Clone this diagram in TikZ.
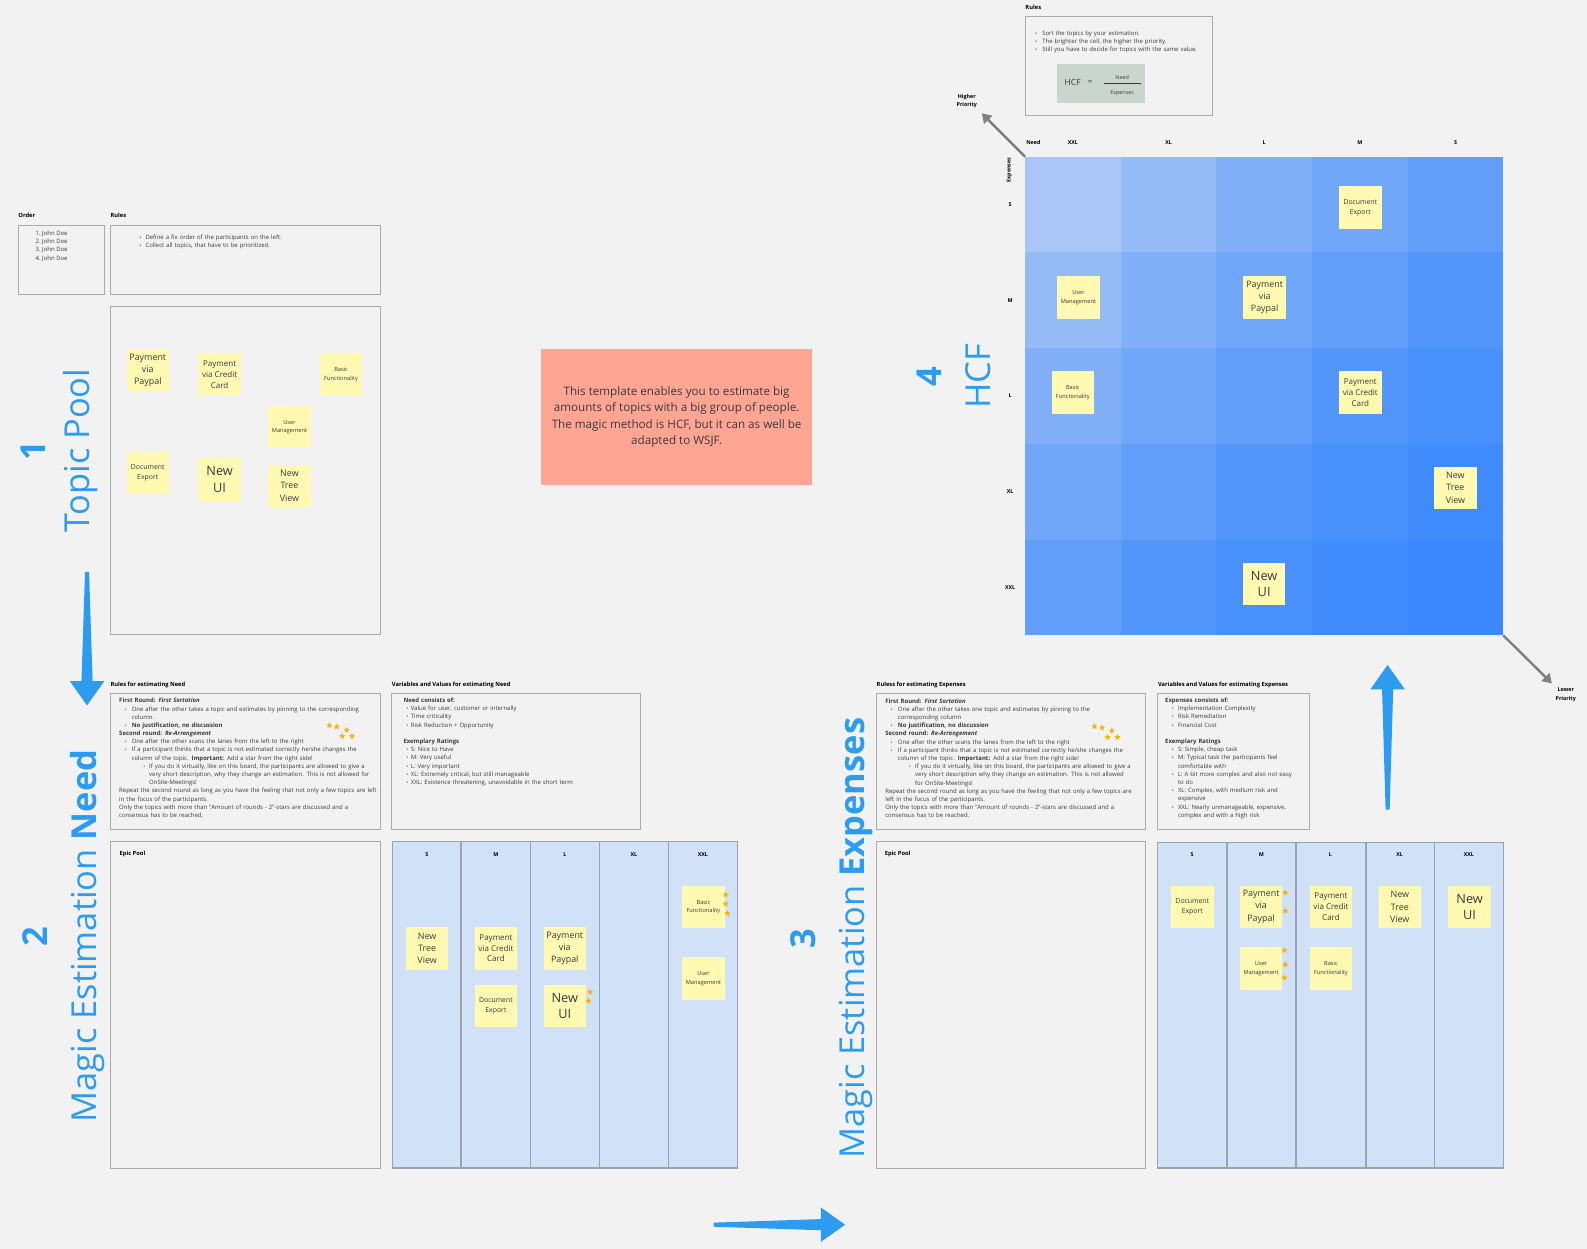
\documentclass[tikz,border=0pt]{standalone}
\usepackage{fontspec}
\setmainfont{Open Sans}
\usepackage{enumitem}
\usetikzlibrary{arrows.meta}
\usetikzlibrary{calc}
\usetikzlibrary{shapes.geometric}

\definecolor{boardBg}{HTML}{F2F2F2}
\definecolor{frameGray}{HTML}{ABABAB}
\definecolor{inkGray}{HTML}{3A3A3A}
\definecolor{laneFill}{HTML}{D0E1F8}
\definecolor{laneLine}{HTML}{98A2B2}
\definecolor{stickyYellow}{HTML}{FFF9B1}
\definecolor{starGold}{HTML}{F4B400}
\definecolor{flowBlue}{HTML}{2D9CF0}
\definecolor{noteRed}{HTML}{FFA593}
\definecolor{hintGray}{HTML}{808080}
\definecolor{formulaGreen}{HTML}{C9D5CD}
\definecolor{hcfLight}{HTML}{A9C6F6}
\definecolor{hcfDark}{HTML}{3A88FC}

\setlist[itemize]{nosep,label={\fontsize{5}{5}\selectfont\textbullet}}

% tapered board arrow from #1 to #2
\newcommand{\flowArrow}[2]{%
  \fill[flowBlue]
    ($(#1)!2pt!-90:(#2)$)
    -- ($(#2)!24pt!(#1)!5.5pt!90:(#1)$)
    -- ($(#2)!24pt!(#1)!17pt!90:(#1)$)
    -- (#2)
    -- ($(#2)!24pt!(#1)!17pt!-90:(#1)$)
    -- ($(#2)!24pt!(#1)!5.5pt!-90:(#1)$)
    -- ($(#1)!2pt!90:(#2)$)
    -- cycle;}

\begin{document}
\begin{tikzpicture}[
    x=1pt, y=-1pt,
    every node/.style={text=inkGray},
    panel/.style={draw=frameGray, line width=0.9pt},
    panelTitle/.style={
        anchor=base west, inner sep=0pt, text=black,
        font=\bfseries\fontsize{5.7}{7}\selectfont
    },
    bodyText/.style={
        anchor=north west, inner sep=0pt, align=left,
        font=\fontsize{5.9}{8.1}\selectfont
    },
    laneBox/.style={fill=laneFill, draw=laneLine, line width=1pt},
    laneHead/.style={inner sep=0pt, text=black, font=\bfseries\fontsize{5.3}{6}\selectfont},
    stickyNote/.style={
        fill=stickyYellow, minimum width=42pt, minimum height=42pt,
        inner sep=0pt, align=center
    },
    noteHuge/.style={font=\fontsize{12.6}{16.5}\selectfont},
    noteLarge/.style={font=\fontsize{8.8}{11.9}\selectfont},
    noteMedium/.style={font=\fontsize{7.9}{10.6}\selectfont},
    noteSmall/.style={font=\fontsize{6.8}{9.9}\selectfont},
    noteTiny/.style={font=\fontsize{5.6}{8.4}\selectfont},
    voteStar/.style={
        star, star points=5, star point ratio=2.3, minimum size=6.5pt,
        inner sep=0pt, fill=starGold
    },
    sectionNum/.style={
        rotate=90, anchor=base, inner sep=0pt, text=flowBlue,
        font=\bfseries\fontsize{34}{40}\selectfont
    },
    sectionTitle/.style={
        rotate=90, anchor=base, inner sep=0pt, text=flowBlue,
        font=\fontsize{34}{40}\selectfont
    },
    priorityArrow/.style={draw=hintGray, line width=2.4pt, -{Triangle[length=9pt, width=11pt]}},
    priorityText/.style={inner sep=0pt, align=center, text=black, font=\bfseries\fontsize{5.3}{8.4}\selectfont}
]
\fill[boardBg] (0,0) rectangle (1568,1234);
\useasboundingbox (0,0) rectangle (1568,1234);

% 1 Topic Pool
\node[panelTitle] (orderTitle) at (18,214.5) {Order};
\draw[panel] (18,223) rectangle (103,291);
\node[bodyText] (orderList) at (35,228) {1.~John Doe\\2.~John Doe\\3.~John Doe\\4.~John Doe};
\node[panelTitle] (poolRulesTitle) at (109,214.5) {Rules};
\draw[panel] (109,223) rectangle (376,291);
\node[bodyText, text width=230pt] (poolRules) at (137,228) {%
\begin{itemize}[leftmargin=6.6pt,labelsep=4pt]
\item Define a fix order of the participants on the left.
\item Collect all topics, that have to be prioritized.
\end{itemize}};
\draw[panel] (109,303) rectangle (376,627);
\node[stickyNote, noteLarge] (tpPaypal) at (146,366) {Payment\\via\\Paypal};
\node[stickyNote, noteMedium] (tpCard) at (217,370) {Payment\\via Credit\\Card};
\node[stickyNote, noteTiny] (tpBasic) at (337,370) {Basic\\Functionality};
\node[stickyNote, noteTiny] (tpUser) at (286,422) {User\\Management};
\node[stickyNote, noteSmall] (tpExport) at (146,467) {Document\\Export};
\node[stickyNote, noteHuge] (tpUi) at (217,474) {New\\UI};
\node[stickyNote, noteLarge] (tpTree) at (286,480) {New\\Tree\\View};
\node[sectionNum] (numPool) at (45,445) {1};
\node[sectionTitle] (titlePool) at (88,445) {Topic Pool};

% 2 Magic Estimation Need
\node[panelTitle] (needRulesTitle) at (109,678.6) {Rules for estimating Need};
\draw[panel] (109,685) rectangle (376,820);
\node[bodyText, text width=258pt] (needRules) at (117.6,689.7) {%
\textbf{First Round: \textit{First Sortation}}
\begin{itemize}[leftmargin=12.4pt,labelsep=5pt]
\item One after the other takes a topic and estimates by pinning to the corresponding\newline column.
\item \textbf{No justification, no discussion}
\end{itemize}
\textbf{Second round: \textit{Re-Arrangement}}
\begin{itemize}[leftmargin=12.4pt,labelsep=5pt]
\item One after the other scans the lanes from the left to the right
\item If a participant thinks that a topic is not estimated correctly he/she changes the\newline column of the topic. \textbf{Important:} Add a star from the right side!
\begin{itemize}[leftmargin=17.2pt,labelsep=3.9pt]
\item If you do it virtually, like on this board, the participants are allowed to give a\newline very short description, why they change an estimation. This is not allowed for\newline OnSite-Meetings!
\end{itemize}
\end{itemize}
Repeat the second round as long as you have the feeling that not only a few topics are left\newline in the focus of the participants.\par
Only the topics with more than "Amount of rounds - 2"-stars are discussed and a\newline consensus has to be reached.};
\foreach \sx/\sy [count=\k] in {325.4/716.7, 332.7/718, 342.6/721.3, 338.2/727.3, 347.8/727.3}
  \node[voteStar] (needRuleStar\k) at (\sx,\sy) {};
\node[panelTitle] (needVarsTitle) at (387,678.6) {Variables and Values for estimating Need};
\draw[panel] (387,685) rectangle (633,820);
\node[bodyText, text width=228pt] (needVars) at (398.5,689.4) {%
\textbf{Need consists of:}
\begin{itemize}[leftmargin=7.3pt,labelsep=2.6pt]
\item Value for user, customer or internally
\item Time criticality
\item Risk Reduction + Opportunity
\end{itemize}
\vspace{8.1pt}
\textbf{Exemplary Ratings}
\begin{itemize}[leftmargin=7.3pt,labelsep=2.6pt]
\item S: Nice to Have
\item M: Very useful
\item L: Very important
\item XL: Extremely critical, but still manageable
\item XXL: Existence threatening, unavoidable in the short term
\end{itemize}};
\draw[panel] (109,831) rectangle (376,1154);
\node[panelTitle] (needPoolTitle) at (118,845) {Epic Pool};
\draw[laneBox] (387.7,831.7) rectangle (728.5,1154);
\foreach \cx in {455.5,524,592.2,660.4}
  \draw[laneLine, line width=1.4pt] (\cx,831.7) -- (\cx,1154);
\foreach \lbl [count=\k] in {S,M,L,XL,XXL}
  \node[laneHead] (needLane\k) at (387.7+68.16*\k-34.08,844) {\lbl};
\node[stickyNote, noteLarge] (ndTree) at (422,937) {New\\Tree\\View};
\node[stickyNote, noteMedium] (ndCard) at (490,937) {Payment\\via Credit\\Card};
\node[stickyNote, noteSmall] (ndExport) at (490,994) {Document\\Export};
\node[stickyNote, noteLarge] (ndPaypal) at (558,937) {Payment\\via\\Paypal};
\node[stickyNote, noteHuge] (ndUi) at (558,994) {New\\UI};
\node[stickyNote, noteTiny] (ndBasic) at (695,896) {Basic\\Functionality};
\node[stickyNote, noteTiny] (ndUser) at (695,967) {User\\Management};
\foreach \sx/\sy [count=\k] in {583/980, 581.4/989, 717/884, 717/893, 718.7/902.5}
  \node[voteStar] (needLaneStar\k) at (\sx,\sy) {};
\node[sectionNum] (numNeed) at (47,925) {2};
\node[sectionTitle] (titleNeed) at (95,925) {Magic Estimation \textbf{Need}};

% 3 Magic Estimation Expenses
\node[panelTitle] (costRulesTitle) at (866,678.6) {Ruless for estimating Expenses};
\draw[panel] (866,685) rectangle (1132,820);
\node[bodyText, text width=255pt] (costRules) at (874.5,690) {%
\textbf{First Round: \textit{First Sortation}}
\begin{itemize}[leftmargin=12.5pt,labelsep=5.3pt]
\item One after the other takes one topic and estimates by pinning to the\newline corresponding column
\item \textbf{No justification, no discussion}
\end{itemize}
\textbf{Second round: \textit{Re-Arrangement}}
\begin{itemize}[leftmargin=12.5pt,labelsep=5.3pt]
\item One after the other scans the lanes from the left to the right
\item If a participant thinks that a topic is not estimated correctly he/she changes the\newline column of the topic. \textbf{Important:} Add a star from the right side!
\begin{itemize}[leftmargin=17pt,labelsep=4.3pt]
\item If you do it virtually, like on this board, the participants are allowed to give a\newline very short description why they change an estimation. This is not allowed\newline for OnSite-Meetings!
\end{itemize}
\end{itemize}
Repeat the second round as long as you have the feeling that not only a few topics are\newline left in the focus of the participants.\par
Only the topics with more than "Amount of rounds - 2"-stars are discussed and a\newline consensus has to be reached.};
\foreach \sx/\sy [count=\k] in {1081.3/717.7, 1088.9/719, 1098.5/722, 1094.2/728.3, 1104/728.3}
  \node[voteStar] (costRuleStar\k) at (\sx,\sy) {};
\node[panelTitle] (costVarsTitle) at (1144,678.6) {Variables and Values for estimating Expenses};
\draw[panel] (1144,685) rectangle (1294,820);
\node[bodyText, text width=138pt] (costVars) at (1151,689.4) {%
\textbf{Expenses consists of:}
\begin{itemize}[leftmargin=12.7pt,labelsep=4.2pt]
\item Implementation Complexity
\item Risk Remediation
\item Financial Cost
\end{itemize}
\vspace{8.1pt}
\textbf{Exemplary Ratings}
\begin{itemize}[leftmargin=12.7pt,labelsep=4.2pt]
\item S: Simple, cheap task
\item M: Typical task the participants feel\newline comfortable with
\item L: A bit more complex and also not easy\newline to do
\item XL: Complex, with medium risk and\newline expensive
\item XXL: Nearly unmanageable, expensive,\newline complex and with a high risk
\end{itemize}};
\draw[panel] (866,831) rectangle (1132,1154);
\node[panelTitle] (costPoolTitle) at (874,845) {Epic Pool};
\draw[laneBox] (1143.6,832) rectangle (1485.5,1154);
\foreach \cx in {1212.1,1280.6,1349.5,1417.3}
  \draw[laneLine, line width=1.4pt] (\cx,832) -- (\cx,1154);
\foreach \lbl [count=\k] in {S,M,L,XL,XXL}
  \node[laneHead] (costLane\k) at (1143.6+68.38*\k-34.19,844) {\lbl};
\node[stickyNote, noteSmall] (exExport) at (1178,896) {Document\\Export};
\node[stickyNote, noteLarge] (exPaypal) at (1246,896) {Payment\\via\\Paypal};
\node[stickyNote, noteTiny] (exUser) at (1246,957) {User\\Management};
\node[stickyNote, noteMedium] (exCard) at (1315,896) {Payment\\via Credit\\Card};
\node[stickyNote, noteTiny] (exBasic) at (1315,957) {Basic\\Functionality};
\node[stickyNote, noteLarge] (exTree) at (1383,896) {New\\Tree\\View};
\node[stickyNote, noteHuge] (exUi) at (1452,896) {New\\UI};
\foreach \sx/\sy [count=\k] in {1270/882, 1270/900, 1269/939, 1270/953, 1269/966}
  \node[voteStar] (costLaneStar\k) at (\sx,\sy) {};
\node[sectionNum] (numCost) at (806,927) {3};
\node[sectionTitle] (titleCost) at (854,927) {Magic Estimation \textbf{Expenses}};

% 4 HCF
\node[panelTitle] (hcfRulesTitle) at (1013,9.2) {Rules};
\draw[panel] (1013.5,16.5) rectangle (1198.3,113.6);
\node[bodyText, text width=170pt] (hcfRules) at (1022,26.6) {%
\begin{itemize}[leftmargin=7.6pt,labelsep=5.2pt]
\item Sort the topics by your estimation.
\item The brighter the cell, the higher the priority.
\item Still you have to decide for topics with the same value.
\end{itemize}};
\fill[formulaGreen] (1044.8,63.2) rectangle (1131.4,101.5);
\node[inner sep=0pt, font=\fontsize{8.4}{10}\selectfont] (hcfName) at (1059.8,81.7) {HCF};
\node[inner sep=0pt, font=\fontsize{8}{10}\selectfont] (hcfEq) at (1077,81.7) {=};
\node[inner sep=0pt, font=\fontsize{5.3}{6}\selectfont] (hcfNeed) at (1108.7,76.8) {Need};
\node[inner sep=0pt, font=\fontsize{5.3}{6}\selectfont] (hcfCost) at (1108.7,91.9) {Expenses};
\draw[inkGray, line width=0.5pt] (1091,82.3) -- (1127.2,82.3);

\foreach \i in {0,...,4}{
  \foreach \j in {0,...,4}{
    \pgfmathsetmacro\hcfShade{100*(1-(1-(\i+\j)/8)*sqrt(1-(\i+\j)/8))}
    \fill[hcfDark!\hcfShade!hcfLight] (1012.8+94.5*\i,154.8+94.6*\j) rectangle ++(94.5,94.6);
  }
}
\coordinate (hcfCornerNW) at (1012.8,154.8);
\coordinate (hcfCornerSE) at (1485.3,627.8);
\node[laneHead] (needAxis) at (1021,141) {Need};
\foreach \lbl [count=\k] in {XXL,XL,L,M,S}
  \node[laneHead] (needCol\k) at (1012.8+94.5*\k-47.25,141) {\lbl};
\node[laneHead, rotate=90] (costAxis) at (997.3,168) {Expenses};
\foreach \lbl [count=\k] in {S,M,L,XL,XXL}
  \node[laneHead] (costRow\k) at (998,154.8+94.6*\k-47.3) {\lbl};
\node[stickyNote, noteSmall] (hcExport) at (1344,205) {Document\\Export};
\node[stickyNote, noteTiny] (hcUser) at (1065.5,294) {User\\Management};
\node[stickyNote, noteLarge] (hcPaypal) at (1249.5,294) {Payment\\via\\Paypal};
\node[stickyNote, noteTiny] (hcBasic) at (1060,388) {Basic\\Functionality};
\node[stickyNote, noteMedium] (hcCard) at (1344,388) {Payment\\via Credit\\Card};
\node[stickyNote, noteLarge] (hcTree) at (1438,482) {New\\Tree\\View};
\node[stickyNote, noteHuge] (hcUi) at (1249,577) {New\\UI};

\coordinate (hiTip) at (970,112);
\coordinate (loTip) at (1533.3,675.2);
\draw[priorityArrow] (hcfCornerNW) -- (hiTip);
\draw[priorityArrow] (hcfCornerSE) -- (loTip);
\node[priorityText] (hiLabel) at (955.2,100) {Higher\\Priority};
\node[priorityText] (loLabel) at (1547,686.6) {Lower\\Priority};
\node[sectionNum] (numHcf) at (930,372) {4};
\node[sectionTitle] (titleHcf) at (979,372) {HCF};

% intro note
\node[fill=noteRed, minimum width=267pt, minimum height=134pt, inner sep=0pt,
      align=center, font=\fontsize{11.5}{16}\selectfont] (intro) at (668.5,412)
  {This template enables you to estimate big\\amounts of topics with a big group of people.\\The magic method is HCF, but it can as well be\\adapted to WSJF.};

% flow between the stages
\coordinate (poolTail) at (86,565);
\coordinate (poolTip) at (86,697);
\coordinate (needTail) at (705,1210);
\coordinate (needTip) at (835,1210);
\coordinate (costTail) at (1371,800);
\coordinate (costTip) at (1371,657);
\flowArrow{poolTail}{poolTip}
\flowArrow{needTail}{needTip}
\flowArrow{costTail}{costTip}
\end{tikzpicture}
\end{document}
